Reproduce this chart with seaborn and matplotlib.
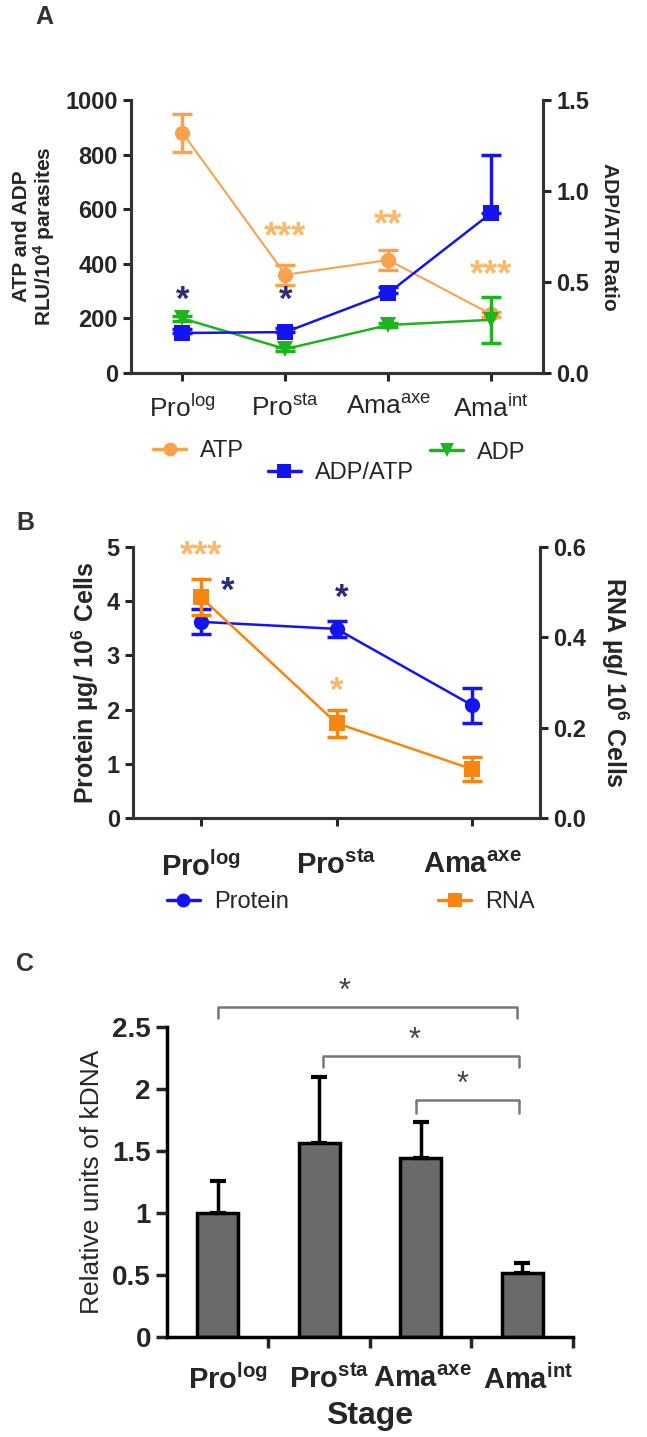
import numpy as np
import pandas as pd
import matplotlib
matplotlib.use('Agg')
import matplotlib.pyplot as plt
from matplotlib.lines import Line2D
import seaborn as sns

# ---- data: panel A (ATP / ADP, ADP/ATP ratio)
stages_a = ['Pro$^{\\mathrm{log}}$', 'Pro$^{\\mathrm{sta}}$',
            'Ama$^{\\mathrm{axe}}$', 'Ama$^{\\mathrm{int}}$']
atp = [880, 360, 414, 215]
atp_err = [70, 37, 37, 10]
adp = [200, 88, 176, 195]
adp_err = [10, 8, 8, 85]
ratio = [0.22, 0.225, 0.44, 0.88]
ratio_err = [0.02, 0.02, 0.03, 0.32]

# ---- data: panel B (protein / RNA)
stages_b = ['$\\mathbf{Pro}^{\\mathbf{log}}$', '$\\mathbf{Pro}^{\\mathbf{sta}}$',
            '$\\mathbf{Ama}^{\\mathbf{axe}}$']
protein = [3.62, 3.49, 2.08]
protein_err = [0.23, 0.15, 0.32]
rna = [0.489, 0.21, 0.108]
rna_err = [0.04, 0.03, 0.027]

# ---- data: panel C (kDNA)
stages_c = ['$\\mathbf{Pro}^{\\mathbf{log}}$', '$\\mathbf{Pro}^{\\mathbf{sta}}$',
            '$\\mathbf{Ama}^{\\mathbf{axe}}$', '$\\mathbf{Ama}^{\\mathbf{int}}$']
kdna = [1.0, 1.565, 1.44, 0.52]
kdna_err = [0.26, 0.535, 0.29, 0.08]

sns.set_style('ticks')
plt.rcParams['font.family'] = ['Liberation Sans', 'DejaVu Sans']
plt.rcParams['mathtext.fontset'] = 'custom'
plt.rcParams['mathtext.rm'] = 'Liberation Sans'
plt.rcParams['mathtext.bf'] = 'Liberation Sans:bold'
plt.rcParams['mathtext.it'] = 'Liberation Sans:italic'

dark = '#262626'
plt.rcParams['text.color'] = dark
plt.rcParams['axes.labelcolor'] = dark
plt.rcParams['xtick.color'] = dark
plt.rcParams['ytick.color'] = dark

c_atp = '#F9A24B'
c_star_o = '#FBB868'
c_blue = '#1414F0'
c_green = '#1FB41F'
c_navy = '#2D2D75'
c_rna = '#F7850F'

fig = plt.figure(figsize=(6.47, 14.37), dpi=100)

def style_axis(ax, lw=2.2):
    for s in ax.spines.values():
        s.set_linewidth(lw)
        s.set_color('#333333')
    ax.spines['top'].set_visible(False)
    ax.tick_params(width=lw, length=6, direction='out')

# ================= Panel A =================
ax = fig.add_axes([0.2025, 0.7404, 0.6365, 0.19])
axr = ax.twinx()
xa = np.arange(len(stages_a))

sns.lineplot(x=xa, y=atp, ax=ax, color=c_atp, marker='o', markersize=11,
             markeredgewidth=0, linewidth=1.5)
ax.errorbar(xa, atp, yerr=atp_err, fmt='none', ecolor=c_atp, elinewidth=2.5,
            capsize=7, capthick=2.5)
sns.lineplot(x=xa, y=adp, ax=ax, color=c_green, marker='v', markersize=11,
             markeredgewidth=0, linewidth=1.8)
ax.errorbar(xa, adp, yerr=adp_err, fmt='none', ecolor=c_green, elinewidth=2.5,
            capsize=7, capthick=2.5)
sns.lineplot(x=xa, y=ratio, ax=axr, color=c_blue, marker='s', markersize=11,
             markeredgewidth=0, linewidth=1.8)
axr.errorbar(xa, ratio, yerr=[np.zeros(len(ratio)), ratio_err], fmt='none',
             ecolor=c_blue, elinewidth=2.5, capsize=7, capthick=2.5)

ax.set_xlim(-0.5, 3.5)
ax.set_ylim(0, 1000)
axr.set_ylim(0, 1.5)
ax.set_yticks([0, 200, 400, 600, 800, 1000])
axr.set_yticks([0.0, 0.5, 1.0, 1.5])
axr.set_yticklabels(['0.0', '0.5', '1.0', '1.5'])
ax.set_xticks(xa)
ax.set_xticklabels(stages_a, fontsize=19)
for a in (ax, axr):
    style_axis(a)
    for lab in a.get_yticklabels():
        lab.set_fontweight('bold')
        lab.set_fontsize(17)
ax.tick_params(axis='x', pad=10)
ax.set_ylabel('ATP and ADP\nRLU/$\\mathbf{10^{4}}$ parasites', fontsize=15,
              fontweight='bold', labelpad=6, linespacing=1.0)
axr.set_ylabel('ADP/ATP Ratio', fontsize=15, fontweight='bold', rotation=270,
               labelpad=22)

ax.text(0, 265, '*', color=c_navy, fontsize=25, ha='center', va='center', fontweight='bold')
ax.text(1, 265, '*', color=c_navy, fontsize=25, ha='center', va='center', fontweight='bold')
ax.text(1, 495, '***', color=c_star_o, fontsize=26, ha='center', va='center', fontweight='bold')
ax.text(2, 538, '**', color=c_star_o, fontsize=26, ha='center', va='center', fontweight='bold')
ax.text(3, 356, '***', color=c_star_o, fontsize=26, ha='center', va='center', fontweight='bold')

fig.text(0.055, 0.988, 'A', fontsize=18, fontweight='bold', color='#333333',
         ha='left', va='center')

def add_key(label, color, marker, x, y, fs):
    h = Line2D([], [], color=color, marker=marker, markersize=10, linewidth=2.5,
               markeredgewidth=0)
    fig.legend(handles=[h], labels=[label], loc='center left',
               bbox_to_anchor=(x, y), bbox_transform=fig.transFigure,
               frameon=False, borderpad=0, borderaxespad=0, handlelength=1.4,
               handletextpad=0.6, fontsize=fs)

add_key('ATP', c_atp, 'o', 0.2365, 0.6862, 17)
add_key('ADP/ATP', c_blue, 's', 0.414, 0.671, 17)
add_key('ADP', c_green, 'v', 0.6646, 0.685, 17)

# ================= Panel B =================
bx = fig.add_axes([0.2056, 0.4308, 0.629, 0.1885])
bxr = bx.twinx()
xb = np.arange(len(stages_b))

sns.lineplot(x=xb, y=protein, ax=bx, color=c_blue, marker='o', markersize=11,
             markeredgewidth=0, linewidth=1.8)
bx.errorbar(xb, protein, yerr=protein_err, fmt='none', ecolor=c_blue,
            elinewidth=2.5, capsize=7, capthick=2.5)
sns.lineplot(x=xb, y=rna, ax=bxr, color=c_rna, marker='s', markersize=11,
             markeredgewidth=0, linewidth=1.8)
bxr.errorbar(xb, rna, yerr=rna_err, fmt='none', ecolor=c_rna,
             elinewidth=2.5, capsize=7, capthick=2.5)

bx.set_xlim(-0.5, 2.5)
bx.set_ylim(0, 5)
bxr.set_ylim(0, 0.6)
bx.set_yticks([0, 1, 2, 3, 4, 5])
bxr.set_yticks([0.0, 0.2, 0.4, 0.6])
bxr.set_yticklabels(['0.0', '0.2', '0.4', '0.6'])
bx.set_xticks(xb)
bx.set_xticklabels(stages_b, fontsize=21)
for a in (bx, bxr):
    style_axis(a)
    for lab in a.get_yticklabels():
        lab.set_fontweight('bold')
        lab.set_fontsize(17)
bx.tick_params(axis='x', pad=18)
bx.set_ylabel('Protein µg/ $\\mathbf{10^{6}}$ Cells', fontsize=18,
              fontweight='bold', labelpad=4)
bxr.set_ylabel('RNA µg/ $\\mathbf{10^{6}}$ Cells', fontsize=18,
               fontweight='bold', rotation=270, labelpad=32)

bx.text(0, 4.82, '***', color=c_star_o, fontsize=26, ha='center', va='center', fontweight='bold')
bx.text(0.2, 4.18, '*', color=c_navy, fontsize=25, ha='center', va='center', fontweight='bold')
bx.text(1.04, 4.05, '*', color=c_navy, fontsize=25, ha='center', va='center', fontweight='bold')
bx.text(1.0, 2.34, '*', color=c_star_o, fontsize=25, ha='center', va='center', fontweight='bold')

fig.text(0.025, 0.636, 'B', fontsize=18, fontweight='bold', color='#333333',
         ha='left', va='center')

add_key('Protein', c_blue, 'o', 0.258, 0.372, 17)
add_key('RNA', c_rna, 's', 0.677, 0.372, 17)

# ================= Panel C =================
cx = fig.add_axes([0.258, 0.0696, 0.6276, 0.2157])
df_c = pd.DataFrame({'stage': stages_c, 'kdna': kdna})
sns.barplot(data=df_c, x='stage', y='kdna', color='#6a6a6a', saturation=1,
            edgecolor='black', linewidth=2.5, width=0.4, errorbar=None, ax=cx)
xc = np.arange(len(stages_c))
cx.errorbar(xc, kdna, yerr=[np.zeros(len(kdna)), kdna_err], fmt='none',
            ecolor='black', elinewidth=2.5, capsize=6, capthick=3)

cx.set_xlim(-0.5, 3.5)
cx.set_ylim(0, 2.5)
cx.set_yticks([0, 0.5, 1, 1.5, 2, 2.5])
cx.set_yticklabels(['0', '0.5', '1', '1.5', '2', '2.5'], fontsize=20,
                   fontweight='bold')
cx.set_xticks(xc + 0.5)
cx.set_xticklabels(stages_c, fontsize=21, ha='right')
for s in cx.spines.values():
    s.set_linewidth(2.5)
    s.set_color('black')
sns.despine(ax=cx)
cx.tick_params(width=2.5, length=8, direction='out')
cx.tick_params(axis='x', pad=12)
cx.set_ylabel('Relative units of kDNA', fontsize=19, labelpad=6)
cx.set_xlabel('Stage', fontsize=23, fontweight='bold', labelpad=4)

# significance brackets
brackets = [(0.0, 2.95, 2.66, 2.57, 1.25), (1.04, 2.97, 2.27, 2.18, 1.94),
            (1.95, 2.97, 1.91, 1.81, 2.41)]
for x0, x1, ytop, ybot, xs in brackets:
    cx.plot([x0, x0, x1, x1], [ybot, ytop, ytop, ybot], color='#777777',
            linewidth=1.8, clip_on=False)
    cx.text(xs, ytop + 0.0, '*', color='#444444', fontsize=22, ha='center',
            va='bottom', clip_on=False)

fig.text(0.025, 0.329, 'C', fontsize=18, fontweight='bold', color='#333333',
         ha='left', va='center')

fig.savefig('out.png', dpi=100)
